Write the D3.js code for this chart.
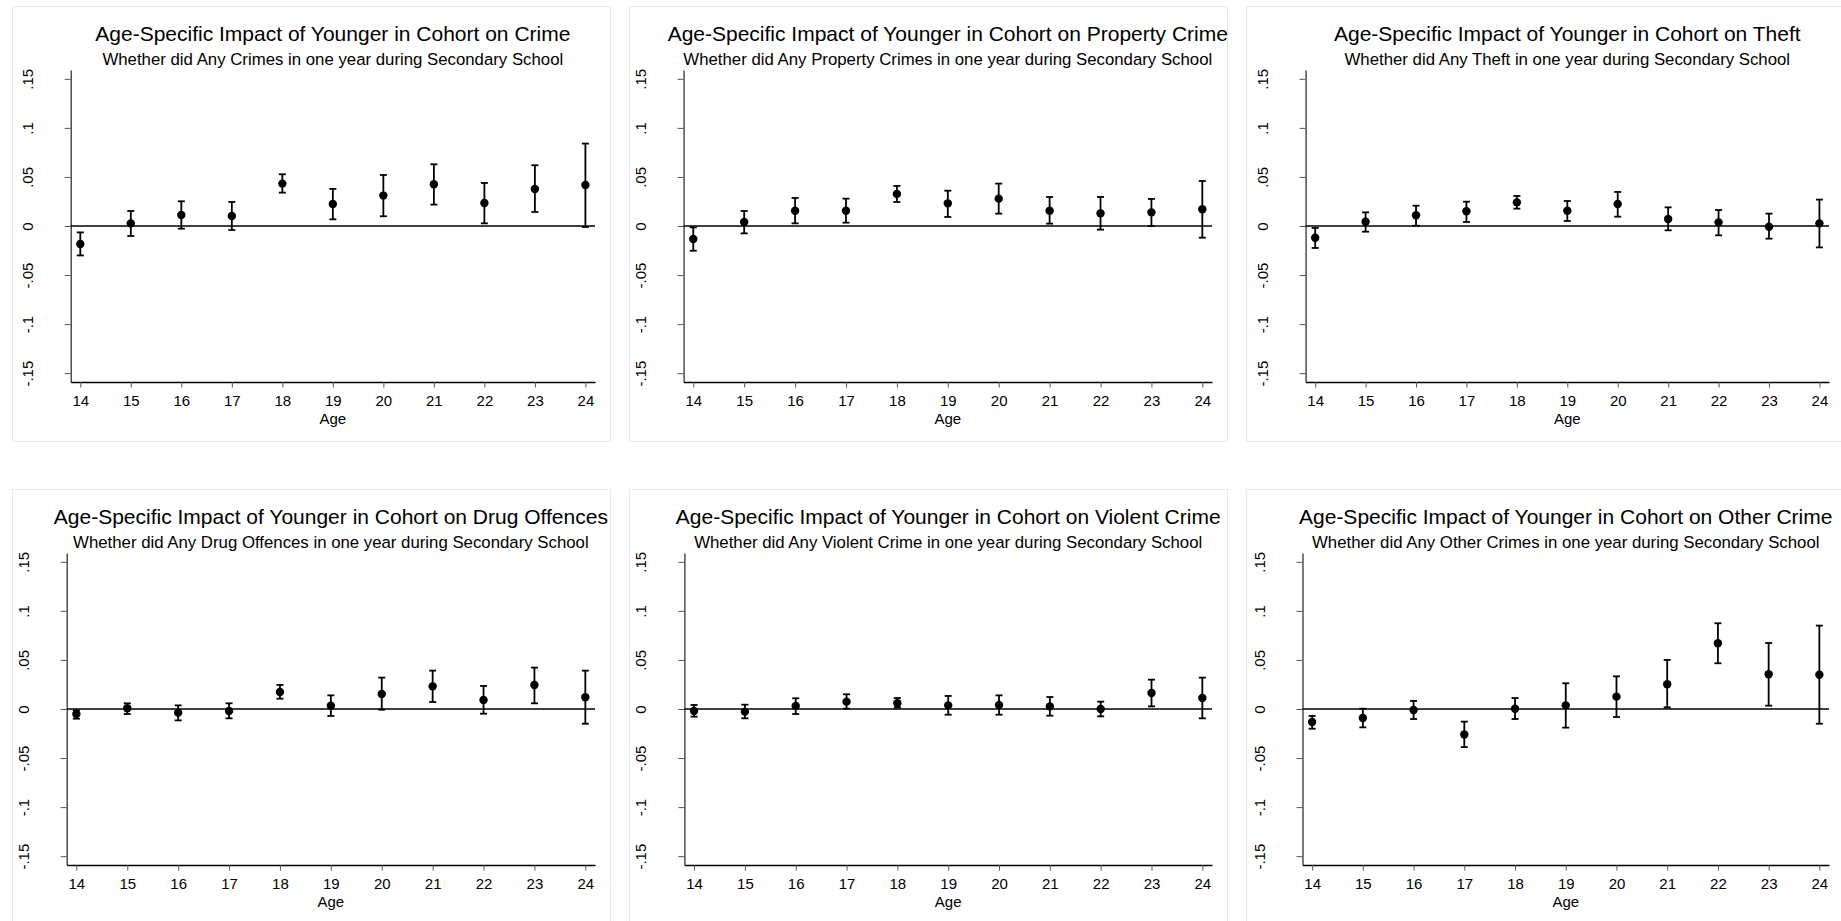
<!DOCTYPE html>
<html>
<head>
<meta charset="utf-8">
<script src="https://cdn.jsdelivr.net/npm/d3@7"></script>
<style>
  body { margin: 0; background: #fff; }
  svg { display: block; font-family: "Liberation Sans", Arial, sans-serif; }
</style>
</head>
<body>
<svg id="chart" width="1841" height="921"></svg>
<script>
const ages = [14, 15, 16, 17, 18, 19, 20, 21, 22, 23, 24];
const yTicks = [-0.15, -0.1, -0.05, 0, 0.05, 0.1, 0.15];

const titles = [
  "Age-Specific Impact of Younger in Cohort on Crime",
  "Age-Specific Impact of Younger in Cohort on Property Crime",
  "Age-Specific Impact of Younger in Cohort on Theft",
  "Age-Specific Impact of Younger in Cohort on Drug Offences",
  "Age-Specific Impact of Younger in Cohort on Violent Crime",
  "Age-Specific Impact of Younger in Cohort on Other Crime"
];
const subtitles = [
  "Whether did Any Crimes in one year during Secondary School",
  "Whether did Any Property Crimes in one year during Secondary School",
  "Whether did Any Theft in one year during Secondary School",
  "Whether did Any Drug Offences in one year during Secondary School",
  "Whether did Any Violent Crime in one year during Secondary School",
  "Whether did Any Other Crimes in one year during Secondary School"
];

// point estimates and 95% CI bounds, by age
const crimeEst = [-0.0184, 0.0027, 0.0112, 0.0102, 0.0432, 0.0224, 0.031, 0.0425, 0.0235, 0.0378, 0.0418];
const crimeLo  = [-0.030, -0.0102, -0.0027, -0.0041, 0.034, 0.0068, 0.0099, 0.0218, 0.0027, 0.0143, -0.001];
const crimeHi  = [-0.0065, 0.0153, 0.0252, 0.0245, 0.0527, 0.0378, 0.052, 0.0629, 0.0439, 0.0619, 0.084];

const propEst = [-0.0133, 0.0041, 0.0156, 0.0156, 0.0327, 0.0231, 0.0279, 0.0156, 0.0129, 0.0139, 0.017];
const propLo  = [-0.0252, -0.0075, 0.0027, 0.0034, 0.0245, 0.0092, 0.0126, 0.0024, -0.0037, 0.0, -0.0119];
const propHi  = [-0.0014, 0.0153, 0.0286, 0.0279, 0.0408, 0.036, 0.0432, 0.0296, 0.0296, 0.0276, 0.0459];

const theftEst = [-0.0119, 0.0044, 0.0109, 0.015, 0.0241, 0.0156, 0.0224, 0.0071, 0.0037, -0.0007, 0.0027];
const theftLo  = [-0.0224, -0.0058, 0.0003, 0.0041, 0.0177, 0.0051, 0.0095, -0.0044, -0.0095, -0.0129, -0.0218];
const theftHi  = [-0.002, 0.0139, 0.0207, 0.0248, 0.0306, 0.0255, 0.0347, 0.019, 0.0163, 0.0126, 0.0269];

const drugEst = [-0.0051, 0.0007, -0.0037, -0.002, 0.0173, 0.0034, 0.0153, 0.0231, 0.0092, 0.0245, 0.0119];
const drugLo  = [-0.0099, -0.0051, -0.0116, -0.0095, 0.0105, -0.0071, -0.0007, 0.0071, -0.0048, 0.0058, -0.015];
const drugHi  = [-0.0014, 0.0058, 0.0037, 0.0058, 0.0245, 0.0139, 0.032, 0.0391, 0.0235, 0.0422, 0.0391];

const violEst = [-0.002, -0.0027, 0.0031, 0.0075, 0.0058, 0.0037, 0.0041, 0.0027, 0.0, 0.0163, 0.0112];
const violLo  = [-0.0078, -0.0095, -0.0051, 0.0003, 0.0014, -0.0058, -0.0058, -0.0068, -0.0075, 0.0027, -0.0095];
const violHi  = [0.0041, 0.0044, 0.0109, 0.015, 0.0112, 0.0133, 0.0139, 0.0122, 0.0075, 0.0299, 0.032];

const otherEst = [-0.0133, -0.0092, -0.001, -0.0259, 0.0003, 0.0037, 0.0126, 0.0252, 0.067, 0.0354, 0.035];
const otherLo  = [-0.0201, -0.0187, -0.0102, -0.0388, -0.0102, -0.019, -0.0082, 0.0017, 0.0466, 0.0034, -0.015];
const otherHi  = [-0.0071, 0.0003, 0.0082, -0.0129, 0.0112, 0.0262, 0.0333, 0.05, 0.0874, 0.0673, 0.085];

const series = [
  [crimeEst, crimeLo, crimeHi],
  [propEst, propLo, propHi],
  [theftEst, theftLo, theftHi],
  [drugEst, drugLo, drugHi],
  [violEst, violLo, violHi],
  [otherEst, otherLo, otherHi]
];

// layout
const colX = [12, 629, 1246];
const rowY = [6, 489];
const panelW = 598, panelH = 435;
const axisLeft = [58.7, 54.6, 59.6, 54.7, 55.4, 56.5];
const plotRight = 583, plotTop = 64, plotBottom = 376;

const svg = d3.select('#chart');
svg.append('rect').attr('width', 1841).attr('height', 921).attr('fill', '#fff');

// stata style labels: .15, -.05, 0
function fmt(d) {
  if (Math.abs(d) < 1e-9) return '0';
  const s = String(+Math.abs(d).toFixed(2)).replace(/^0\./, '.');
  return (d < 0 ? '-' : '') + s;
}

series.forEach((s, i) => {
  const [est, lo, hi] = s;
  const px = colX[i % 3], py = rowY[Math.floor(i / 3)];
  const g = svg.append('g').attr('transform', `translate(${px},${py})`);

  g.append('rect')
    .attr('x', 0.5).attr('y', 0.5)
    .attr('width', panelW).attr('height', panelH)
    .attr('fill', '#fff').attr('stroke', '#e3ecec');

  const x = d3.scaleLinear().domain([13.81, 24.19]).range([axisLeft[i], plotRight]);
  const y = d3.scaleLinear().domain([-0.159, 0.159]).range([plotBottom, plotTop]);
  const cx = (axisLeft[i] + plotRight) / 2;

  g.append('text').attr('x', cx).attr('y', 35)
    .attr('text-anchor', 'middle').attr('font-size', 21).text(titles[i]);
  g.append('text').attr('x', cx).attr('y', 59)
    .attr('text-anchor', 'middle').attr('font-size', 16.8).text(subtitles[i]);

  // y axis
  const ya = g.append('g').attr('transform', `translate(${axisLeft[i]},0)`)
    .call(d3.axisLeft(y).tickValues(yTicks).tickFormat(fmt).tickSize(6).tickSizeOuter(0));
  ya.select('.domain').attr('stroke', '#333').attr('stroke-width', 1.3);
  ya.selectAll('.tick line').attr('stroke', '#555');
  ya.selectAll('.tick text')
    .attr('x', null).attr('dy', null)
    .attr('transform', 'translate(-38,0) rotate(-90)')
    .attr('text-anchor', 'middle')
    .attr('font-size', 15).attr('font-family', null).attr('fill', '#000');

  // x axis
  const xa = g.append('g').attr('transform', `translate(0,${plotBottom})`)
    .call(d3.axisBottom(x).tickValues(ages).tickFormat(d3.format('d')).tickSize(5.5).tickSizeOuter(0));
  xa.select('.domain').attr('stroke', '#000').attr('stroke-width', 1.5);
  xa.selectAll('.tick line').attr('stroke', '#555');
  xa.selectAll('.tick text')
    .attr('y', 24).attr('dy', null)
    .attr('font-size', 15).attr('font-family', null).attr('fill', '#000');

  g.append('text').attr('x', cx).attr('y', 418)
    .attr('text-anchor', 'middle').attr('font-size', 15).text('Age');

  // zero line
  g.append('line')
    .attr('x1', axisLeft[i]).attr('x2', plotRight)
    .attr('y1', y(0)).attr('y2', y(0))
    .attr('stroke', '#000').attr('stroke-width', 1.6);

  const pts = ages.map((a, j) => ({ a, e: est[j], l: lo[j], h: hi[j] }));

  const bars = g.append('g').attr('stroke', '#000').attr('stroke-width', 1.8);
  bars.selectAll('line.ci').data(pts).join('line').attr('class', 'ci')
    .attr('x1', d => x(d.a)).attr('x2', d => x(d.a))
    .attr('y1', d => y(d.l)).attr('y2', d => y(d.h));
  bars.selectAll('line.caph').data(pts).join('line').attr('class', 'caph')
    .attr('x1', d => x(d.a) - 3.5).attr('x2', d => x(d.a) + 3.5)
    .attr('y1', d => y(d.h)).attr('y2', d => y(d.h));
  bars.selectAll('line.capl').data(pts).join('line').attr('class', 'capl')
    .attr('x1', d => x(d.a) - 3.5).attr('x2', d => x(d.a) + 3.5)
    .attr('y1', d => y(d.l)).attr('y2', d => y(d.l));

  g.selectAll('circle.pt').data(pts).join('circle').attr('class', 'pt')
    .attr('cx', d => x(d.a)).attr('cy', d => y(d.e))
    .attr('r', 4.2).attr('fill', '#000');
});
</script>
</body>
</html>
